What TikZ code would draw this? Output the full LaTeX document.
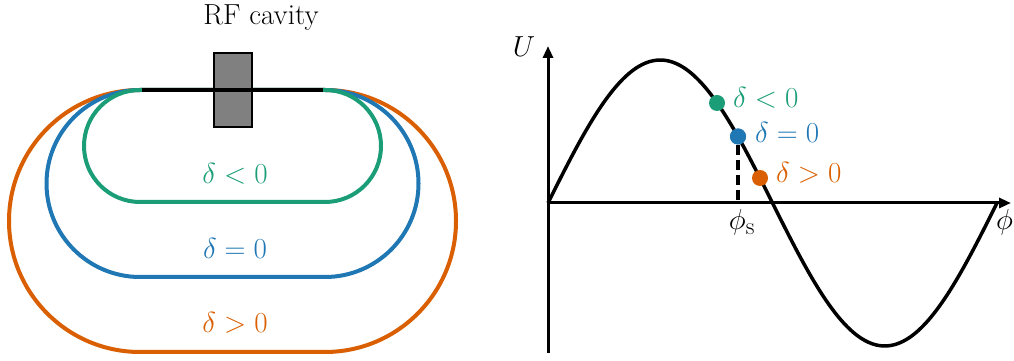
\documentclass[tikz,border=0pt]{standalone}
\usetikzlibrary{arrows.meta}
\definecolor{cgreen}{RGB}{27,158,119}
\definecolor{cblue}{RGB}{31,119,180}
\definecolor{corange}{RGB}{217,95,2}
\newcommand{\bigtxt}[1]{\scalebox{1.1656}{#1}}
\begin{document}
\begin{tikzpicture}[x=1pt,y=1pt,
  orbit/.style={line width=4pt},
  lbl/.style={font=\fontsize{24.88}{30}\selectfont, inner sep=0pt},
  axis/.style={line width=3pt, -{Triangle[length=12pt,width=10pt]}},
  dot/.style={circle, fill=#1, minimum size=16pt, inner sep=0pt},
]
\useasboundingbox (0,0) rectangle (1014,361);
% ---------- left: ring ----------
\draw[orbit, corange] (325,271) -- (140,271) arc[start angle=90,end angle=270,radius=131] -- (325,9) arc[start angle=-90,end angle=90,radius=131];
\draw[orbit, cblue] (325,271) -- (140,271) arc[start angle=90,end angle=270,radius=93.5] -- (325,84) arc[start angle=-90,end angle=90,radius=93.5];
\draw[orbit, cgreen] (325,271) -- (140,271) arc[start angle=90,end angle=270,radius=56] -- (325,159) arc[start angle=-90,end angle=90,radius=56];
\node[draw=black, line width=2pt, fill=black!50, minimum width=38pt, minimum height=74pt, inner sep=0pt] (cav) at (232.5,270.5) {};
\coordinate (sl) at (142,271);
\coordinate (sr) at (323,271);
\draw[line width=4pt] (sl) -- (sr);
\node[lbl, anchor=base] (rf) at (261,336) {\bigtxt{RF cavity}};
\node[lbl, anchor=base, text=cgreen] (lg) at (235,177) {\bigtxt{$\delta<0$}};
\node[lbl, anchor=base, text=cblue] (lb) at (235,102) {\bigtxt{$\delta=0$}};
\node[lbl, anchor=base, text=corange] (lo) at (235,28) {\bigtxt{$\delta>0$}};
% ---------- right: potential ----------
\coordinate (O) at (548,158);
\coordinate (ybot) at (548,8);
\coordinate (ytop) at (548,315);
\coordinate (xend) at (1011,158);
\draw[axis] (ybot) -- (ytop);
\draw[axis] (O) -- (xend);
\draw[line width=3.5pt, line join=round] plot[domain=0:449, samples=120, smooth] ({548+\x},{158+143*sin(\x/449*360)});
\node[dot=cgreen] (pg) at (717,258) {};
\node[dot=cblue] (pb) at (738,224.5) {};
\node[dot=corange] (po) at (760,183) {};
\coordinate (phis) at (738,158);
\draw[line width=3.5pt, dash pattern=on 10pt off 5pt] (pb.south) -- (phis);
\node[dot=cblue] at (pb) {};
\node[lbl, anchor=base west, text=cgreen] (tg) at (733,253) {\bigtxt{$\delta<0$}};
\node[lbl, anchor=base west, text=cblue] (tb) at (755,218) {\bigtxt{$\delta=0$}};
\node[lbl, anchor=base west, text=corange] (to) at (776,178) {\bigtxt{$\delta>0$}};
\node[lbl, anchor=base] (ls) at (742,131) {\bigtxt{$\phi_\mathrm{s}$}};
\node[lbl, anchor=base] (lU) at (524,304) {\bigtxt{$U$}};
\node[lbl, anchor=base west] (lphi) at (996,131) {\bigtxt{$\phi$}};
\end{tikzpicture}
\end{document}
